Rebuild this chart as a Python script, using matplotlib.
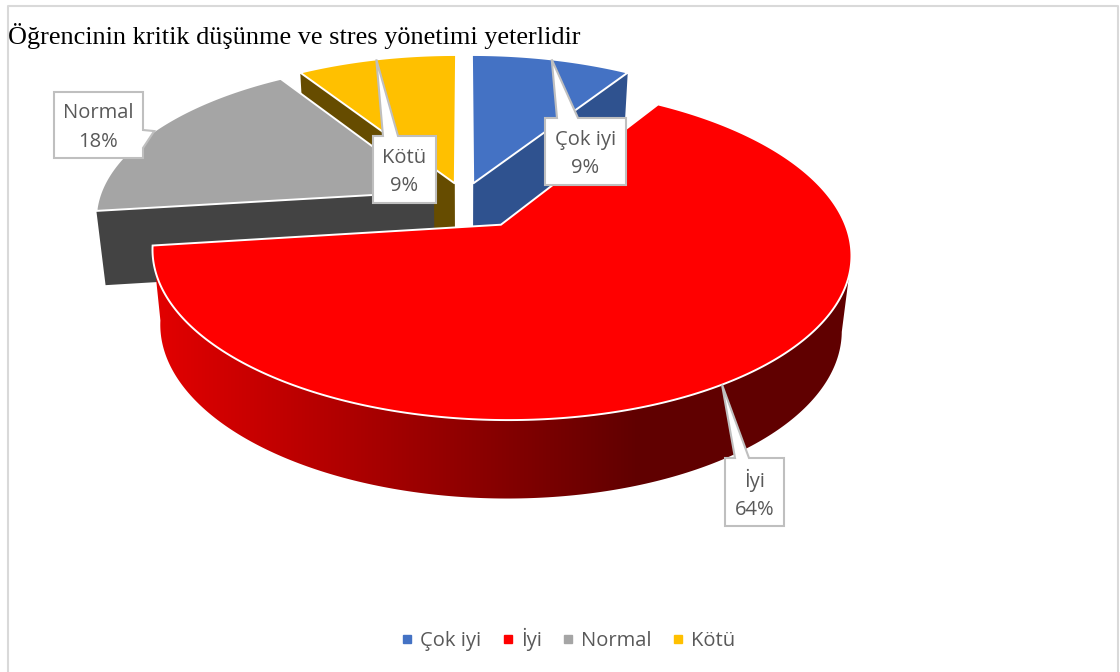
import numpy as np
import matplotlib
matplotlib.use('Agg')
import matplotlib.pyplot as plt
from matplotlib.colors import LinearSegmentedColormap
from matplotlib.lines import Line2D
from matplotlib.patches import Polygon

title = 'Öğrencinin kritik düşünme ve stres yönetimi yeterlidir'
categories = ['Çok iyi', 'İyi', 'Normal', 'Kötü']
shares = [9, 64, 18, 9]
explode = [0.1, 0.2, 0.1, 0.1]

top_colors = ['#4472C4', '#FF0000', '#A5A5A5', '#FFC000']
side_colors = ['#2F528F', '#FF0000', '#434343', '#664C00']
draw_order = [3, 0, 2, 1]
# which radial cut of each slice can be seen (0 = first edge, -1 = last edge)
cut_faces = [[-1], [], [0], [0]]

# label boxes: left, top, right, bottom, pointer side, pointer base start and end
boxes = [(545, 118, 626, 185, 'top', 557, 578),
         (725, 458, 784, 526, 'top', 735, 749),
         (54, 92, 143, 158, 'right', 130, 148),
         (373, 136, 436, 203, 'top', 383, 398)]

plt.rcParams['font.family'] = ['Open Sans', 'DejaVu Sans']
fig = plt.figure(figsize=(11.2, 6.72), dpi=100)
ax = fig.add_axes([0, 0, 1, 1])
ax.axis('off')

# chart frame
ax.plot([8, 8, 1118, 1118], [672, 6, 6, 672], color='#D9D9D9', lw=1.5)

# perspective of the pie plane
cx, cy = 464, 198
A, B, p = 335, 153.8, 0.163
sx, sy, dz = 0.975, 1.02, 74


def project(u, v, low=False):
    w = 1 + p * v
    x = A * u / w
    y = -B * v / w
    if low:
        return cx + sx * x, cy + dz + sy * y
    return cx + x, cy + y


def rim(t, e, mid):
    u = e * np.sin(mid) + np.sin(t)
    v = e * np.cos(mid) + np.cos(t)
    return u, v


side_cmap = LinearSegmentedColormap.from_list('side', ['#E10000', '#600000'])

fractions = np.array(shares) / sum(shares)
ends = np.cumsum(fractions) * 2 * np.pi
starts = ends - fractions * 2 * np.pi
mids = (starts + ends) / 2

for n, i in enumerate(draw_order):
    t = np.linspace(starts[i], ends[i], 300)
    e, mid = explode[i], mids[i]
    apex = (e * np.sin(mid), e * np.cos(mid))
    u, v = rim(t, e, mid)
    z = 2 + n

    # cut faces
    for k in cut_faces[i]:
        a, b = project(*apex), project(u[k], v[k])
        a2, b2 = project(*apex, low=True), project(u[k], v[k], low=True)
        ax.add_patch(Polygon([a, b, b2, a2], facecolor=side_colors[i], edgecolor='none', zorder=z))

    # outer wall, from the right extreme of the rim round the front
    x_all, _ = project(u, v)
    front = (t >= t[np.argmax(x_all)]) & (np.cos(t) < 0.3)
    if front.any():
        x1, y1 = project(u[front], v[front])
        x2, y2 = project(u[front], v[front], low=True)
        wall = np.column_stack([np.r_[x1, x2[::-1]], np.r_[y1, y2[::-1]]])
        patch = Polygon(wall, facecolor='none', edgecolor='none', zorder=z)
        ax.add_patch(patch)
        grad = np.linspace(0, 1, 256).reshape(1, -1)
        img = ax.imshow(grad, cmap=side_cmap, extent=(160, 640, 672, 0), aspect='auto', zorder=z,
                        interpolation='bilinear')
        # the wall outside the ramp keeps the end colours
        img_left = ax.imshow([[0, 0]], cmap=side_cmap, vmin=0, vmax=1, extent=(100, 160, 672, 0),
                             aspect='auto', zorder=z)
        img_right = ax.imshow([[1, 1]], cmap=side_cmap, vmin=0, vmax=1, extent=(640, 900, 672, 0),
                              aspect='auto', zorder=z)
        for im in [img, img_left, img_right]:
            im.set_clip_path(patch)

    # top face
    x1, y1 = project(u, v)
    top_pts = np.vstack([project(*apex), np.column_stack([x1, y1])])
    ax.add_patch(Polygon(top_pts, facecolor=top_colors[i], edgecolor='white', lw=1.4,
                         joinstyle='miter', zorder=z + 0.5))

# data labels with pointers
for i, cat in enumerate(categories):
    left, top, right, bottom, side, b0, b1 = boxes[i]
    tip = project(*rim(mids[i], explode[i], mids[i]))
    if side == 'top':
        pts = [(left, top), (b0, top), tip, (b1, top), (right, top), (right, bottom), (left, bottom)]
    else:
        pts = [(left, top), (right, top), (right, b0), tip, (right, b1), (right, bottom), (left, bottom)]
    ax.add_patch(Polygon(pts, facecolor='white', edgecolor='#BFBFBF', lw=1.5, zorder=10))
    ax.text((left + right) / 2, (top + bottom) / 2 + 2.5, f'{cat}\n{shares[i]}%', ha='center', va='center',
            color='#595959', fontsize=14.5, linespacing=1.58, zorder=11)

ax.text(8, 44, title, family=['Liberation Serif'], fontsize=18.9, color='black', va='baseline', zorder=12)

ax.set_xlim(0, 1120)
ax.set_ylim(672, 0)

# legend
handles = [Line2D([], [], ls='none', marker='s', ms=5.8, color=c) for c in top_colors]
fig.legend(handles, categories, loc='center', bbox_to_anchor=(568 / 1120, 1 - 639 / 672), ncol=4,
           frameon=False, fontsize=14.5, labelcolor='#595959', handlelength=0.6, handletextpad=0.35,
           columnspacing=1.0, borderpad=0)

fig.savefig('out.png', dpi=100)
plt.close(fig)
